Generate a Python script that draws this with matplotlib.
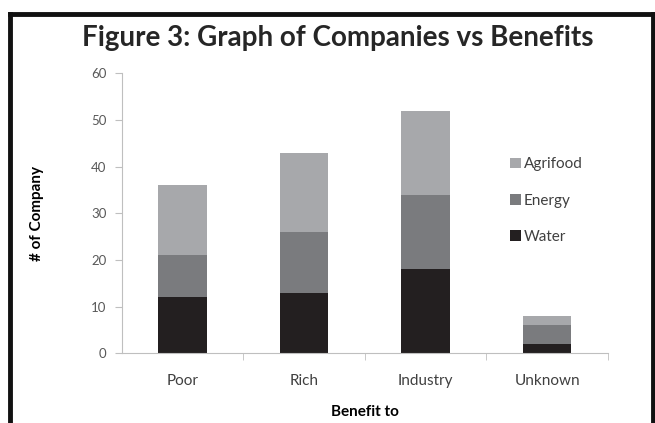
import matplotlib.pyplot as plt
from matplotlib.lines import Line2D

# =========================
# Data
# =========================
categories = ["Poor", "Rich", "Industry", "Unknown"]
water = [12, 13, 18, 2]
energy = [9, 13, 16, 4]
agrifood = [15, 17, 18, 2]

plt.rcParams['font.family'] = ['Lato', 'DejaVu Sans']

fig = plt.figure(figsize=(6.55, 4.23), dpi=100)
ax = fig.add_axes([0.186, 0.165, 0.742, 0.662])

x = range(len(categories))
w = 0.4
ax.bar(x, water, w, color="#231f20", label="Water")
ax.bar(x, energy, w, bottom=water, color="#7a7b7e", label="Energy")
bottom2 = [a + b for a, b in zip(water, energy)]
ax.bar(x, agrifood, w, bottom=bottom2, color="#a7a8ab", label="Agrifood")

ax.set_xlim(-0.5, 3.5)
ax.set_ylim(0, 60)
ax.set_yticks(range(0, 61, 10))
ax.set_xticks(list(x))
ax.set_xticklabels(categories)
ax.set_xticks([0.5, 1.5, 2.5, 3.5], minor=True)
ax.tick_params(axis="x", which="major", length=0, pad=15, labelsize=11, labelcolor="#404040")
ax.tick_params(axis="x", which="minor", length=5, color="#bfbfbf", direction="out")
ax.tick_params(axis="y", length=5, color="#bfbfbf", labelsize=9.5, labelcolor="#595959", pad=6)

for s in ["top", "right"]:
    ax.spines[s].set_visible(False)
for s in ["left", "bottom"]:
    ax.spines[s].set_color("#bfbfbf")

ax.set_xlabel("Benefit to", fontsize=11, fontweight="bold", labelpad=12)
ax.set_ylabel("# of Company", fontsize=11, fontweight="bold")
ax.yaxis.set_label_coords(-0.16, 0.5)

handles, labels = ax.get_legend_handles_labels()
leg = ax.legend(handles[::-1], labels[::-1], loc="center left", bbox_to_anchor=(0.77, 0.545),
                frameon=False, fontsize=11, handlelength=0.7, handleheight=0.7,
                handletextpad=0.2, labelspacing=1.45, labelcolor="#404040")

fig.suptitle("Figure 3: Graph of Companies vs Benefits", x=0.515, y=0.94,
             fontsize=20, fontweight="bold", color="#262626")

# frame around the picture
fig.add_artist(Line2D([0.015, 0.015], [0, 0.967], transform=fig.transFigure, color="#111111", lw=3.5))
fig.add_artist(Line2D([0.015, 0.997], [0.967, 0.967], transform=fig.transFigure, color="#111111", lw=3.5))
fig.add_artist(Line2D([0.997, 0.997], [0, 0.967], transform=fig.transFigure, color="#111111", lw=3.5))

fig.savefig("out.png", dpi=100)
